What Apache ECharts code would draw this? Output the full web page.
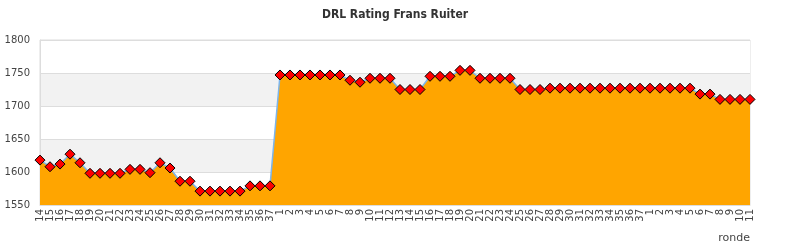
<!DOCTYPE html>
<html><head><meta charset="utf-8">
<script src="https://cdn.jsdelivr.net/npm/echarts@6/dist/echarts.min.js"></script>
<style>html,body{margin:0;padding:0;background:#fff}#c{width:790px;height:250px}</style>
</head><body><div id="c"></div>
<script>
var rounds = ['14','15','16','17','18','19','20','21','22','23','24','25','26','27','28','29','30','31','32','33','34','35','36','37',
'1','2','3','4','5','6','7','8','9','10','11','12','13','14','15','16','17','18','19','20','21','22','23','24','25','26','27','28','29','30','31','32','33','34','35','36','37',
'1','2','3','4','5','6','7','8','9','10','11'];
var ratings = [1618,1608,1612,1627,1614,1598,1598,1598,1598,1604,1604,1599,1614,1606,1586,1586,1571,1571,1571,1571,1571,1579,1579,1579,
1747,1747,1747,1747,1747,1747,1747,1739,1736,1742,1742,1742,1725,1725,1725,1745,1745,1745,1754,1754,1742,1742,1742,1742,1725,1725,1725,1727,1727,1727,1727,1727,1727,1727,1727,1727,1727,
1727,1727,1727,1727,1727,1718,1718,1710,1710,1710,1710];
var yTicks = [1550,1600,1650,1700,1750,1800];
var chart = echarts.init(document.getElementById('c'));
chart.setOption({
  animation:false,
  title:{text:'DRL Rating Frans Ruiter',left:'center',top:4,textStyle:{fontFamily:'DejaVu Sans Condensed',fontSize:12,fontWeight:'bold',color:'#333'}},
  grid:{left:40,right:40,top:40,bottom:45,show:true,borderColor:'#ddd',borderWidth:1},
  xAxis:{type:'category',data:rounds,boundaryGap:false,
    axisLine:{lineStyle:{color:'#ddd'}},axisTick:{show:false},
    axisLabel:{rotate:90,interval:0,fontFamily:'DejaVu Sans',fontSize:10,color:'#444',margin:4}},
  yAxis:{type:'value',min:yTicks[0],max:yTicks[yTicks.length-1],interval:50,
    axisLine:{show:true,lineStyle:{color:'#ddd'}},axisTick:{show:false},
    axisLabel:{fontFamily:'DejaVu Sans',fontSize:10,color:'#444',margin:10,formatter:function(v){return String(v);}},
    splitLine:{lineStyle:{color:'#ddd'}},
    splitArea:{show:true,areaStyle:{color:['#ffffff','#f2f2f2']}}},
  graphic:[{type:'text',right:40,top:233,style:{text:'ronde',font:'11px DejaVu Sans',fill:'#444'}}],
  series:[{type:'line',data:ratings,symbol:'diamond',symbolSize:10,
    lineStyle:{color:'#7cb5ec',width:1.5},
    itemStyle:{color:'#ff0000',borderColor:'#000',borderWidth:1},
    areaStyle:{color:'#ffa500',opacity:1}}]
});
</script></body></html>
